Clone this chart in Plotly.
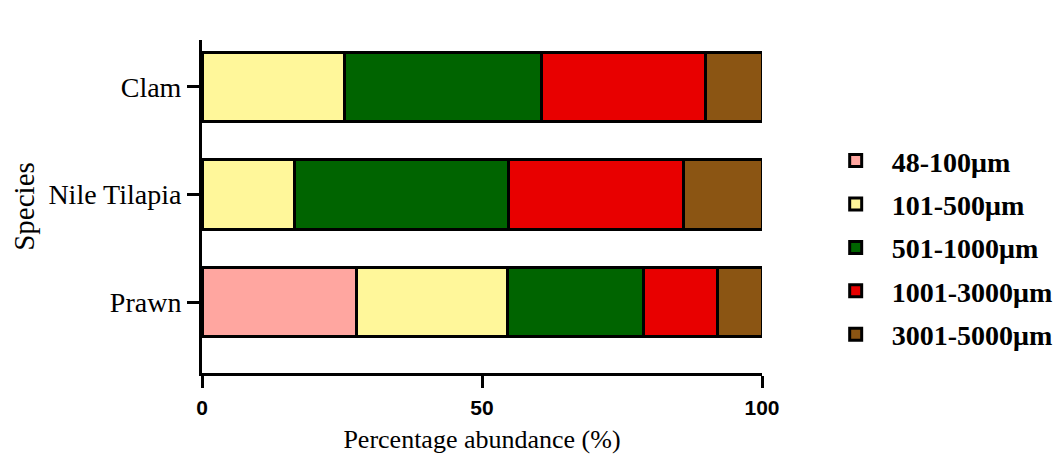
import plotly.graph_objects as go

species = ["Prawn", "Nile Tilapia", "Clam"]
size_classes = ["48-100μm", "101-500μm", "501-1000μm", "1001-3000μm", "3001-5000μm"]
colors = ["#FFA6A0", "#FFF79A", "#006400", "#E80000", "#8B5513"]

v_48_100 = [27.6, 0.0, 0.0]
v_101_500 = [27.0, 16.5, 25.5]
v_501_1000 = [24.3, 38.3, 35.2]
v_1001_3000 = [13.1, 31.1, 29.2]
v_3001_5000 = [8.0, 14.1, 10.1]

series = [v_48_100, v_101_500, v_501_1000, v_1001_3000, v_3001_5000]

SERIF = "Liberation Serif"

fig = go.Figure()
for i, (name, vals, col) in enumerate(zip(size_classes, series, colors)):
    fig.add_trace(go.Bar(
        y=species, x=vals, name=name, orientation="h",
        marker=dict(color=col, line=dict(color="black", width=3)),
        width=0.65, legendgroup=f"g{i}",
    ))

fig.update_layout(
    barmode="stack",
    width=1062, height=460,
    margin=dict(l=194, r=308, t=32, b=95),
    plot_bgcolor="white", paper_bgcolor="white",
    showlegend=True,
    legend=dict(
        x=1.103, y=0.712, xanchor="left", yanchor="top",
        font=dict(family=SERIF, size=28, color="black", weight="bold"),
        tracegroupgap=4, traceorder="grouped", itemwidth=62,
    ),
    xaxis=dict(
        range=[0, 100], tickvals=[0, 50, 100], automargin=False,
        showline=True, linecolor="black", linewidth=3,
        ticks="outside", ticklen=12, tickwidth=3, tickcolor="black",
        showgrid=False, zeroline=False, ticklabelstandoff=2,
        tickfont=dict(family="Liberation Sans", size=21, color="black", weight="bold"),
        title=dict(text="Percentage abundance (%)",
                   font=dict(family=SERIF, size=26, color="black"),
                   standoff=12),
    ),
    yaxis=dict(
        range=[-0.66, 2.437], automargin=False,
        showline=True, linecolor="black", linewidth=3,
        ticks="outside", ticklen=12, tickwidth=3, tickcolor="black",
        showgrid=False, zeroline=False,
        tickfont=dict(family=SERIF, size=28, color="black"),
        title=dict(text="Species",
                   font=dict(family=SERIF, size=29, color="black"),
                   standoff=16),
    ),
)

fig.write_html("out.html")
